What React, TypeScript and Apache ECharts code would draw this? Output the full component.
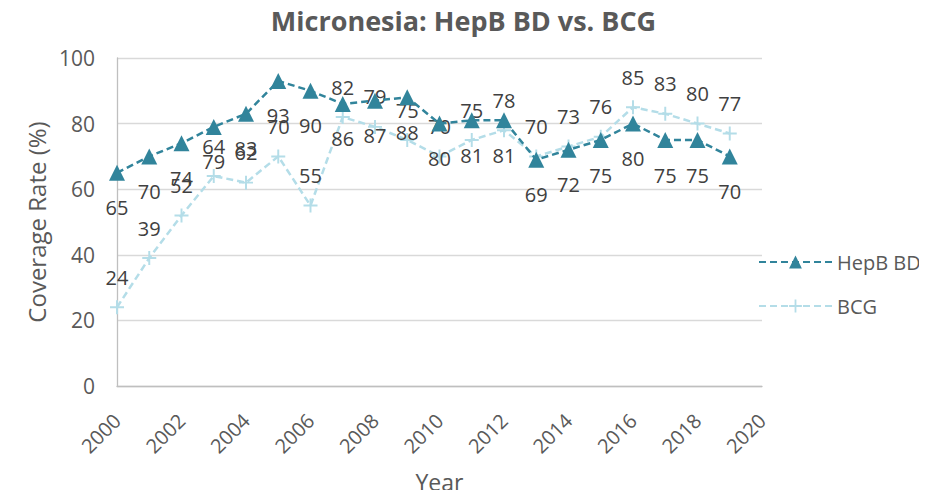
import React, { useEffect, useRef } from "react";
import * as echarts from "echarts";

const years = [2000, 2001, 2002, 2003, 2004, 2005, 2006, 2007, 2008, 2009, 2010, 2011, 2012, 2013, 2014, 2015, 2016, 2017, 2018, 2019];
const hepbBD = [65, 70, 74, 79, 83, 93, 90, 86, 87, 88, 80, 81, 81, 69, 72, 75, 80, 75, 75, 70];
const bcg = [24, 39, 52, 64, 62, 70, 55, 82, 79, 75, 70, 75, 78, 70, 73, 76, 85, 83, 80, 77];

const titleText = "Micronesia: HepB BD vs. BCG";
const xName = "Year";
const yName = "Coverage Rate (%)";

const HEPB_COLOR = "#31849B";
const BCG_COLOR = "#B4DDE8";
const PLUS = "path://M0,8.6 L20,8.6 L20,11.4 L0,11.4 Z M8.6,0 L11.4,0 L11.4,20 L8.6,20 Z";
const FONT = "Open Sans";

export default function App() {
  const ref = useRef<HTMLDivElement>(null);
  useEffect(() => {
    if (!ref.current) return;
    const chart = echarts.init(ref.current, undefined, { renderer: "svg" });
    chart.setOption({
      animation: false,
      backgroundColor: "#ffffff",
      title: {
        text: titleText,
        left: "center",
        top: 2,
        textStyle: { fontFamily: FONT, fontSize: 27, fontWeight: "bold", color: "#595959" },
      },
      grid: { left: 117, right: 165, top: 58, bottom: 112 },
      legend: {
        orient: "vertical",
        left: 753,
        top: 247,
        padding: 5,
        itemWidth: 73,
        itemHeight: 16,
        itemGap: 24,
        textStyle: { fontFamily: FONT, fontSize: 20, color: "#595959" },
        data: ["HepB BD", "BCG"],
      },
      xAxis: {
        type: "value",
        min: 2000,
        max: 2020,
        interval: 2,
        name: xName,
        nameLocation: "middle",
        nameGap: 84,
        nameTextStyle: { fontFamily: FONT, fontSize: 23, color: "#595959" },
        axisLine: { show: true, lineStyle: { color: "#BFBFBF", width: 1.3 } },
        axisTick: { show: false },
        splitLine: { show: false },
        axisLabel: {
          rotate: 45,
          margin: 31,
          fontFamily: FONT,
          fontSize: 20,
          color: "#595959",
          formatter: (v: number) => String(v),
        },
      },
      yAxis: {
        type: "value",
        min: 0,
        max: 100,
        interval: 20,
        name: yName,
        nameLocation: "middle",
        nameGap: 67,
        nameTextStyle: { fontFamily: FONT, fontSize: 24, color: "#595959" },
        axisLine: { show: true, lineStyle: { color: "#BFBFBF", width: 1.3 } },
        axisTick: { show: false },
        splitLine: { show: true, lineStyle: { color: "#D9D9D9", width: 1.3 } },
        axisLabel: { margin: 22, fontFamily: FONT, fontSize: 21, color: "#595959" },
      },
      series: [
        {
          name: "HepB BD",
          type: "line",
          data: years.map((y, i) => [y, hepbBD[i]]),
          symbol: "triangle",
          symbolSize: 16,
          itemStyle: { color: HEPB_COLOR },
          lineStyle: { color: HEPB_COLOR, width: 2.5, type: [7, 4] },
          label: {
            show: true,
            position: "inside",
            offset: [0, 35],
            fontFamily: FONT,
            fontSize: 20,
            color: "#404040",
          },
          z: 3,
        },
        {
          name: "BCG",
          type: "line",
          data: years.map((y, i) => [y, bcg[i]]),
          symbol: PLUS,
          symbolSize: 14,
          itemStyle: { color: BCG_COLOR },
          lineStyle: { color: BCG_COLOR, width: 2.5, type: [7, 4] },
          label: {
            show: true,
            position: "inside",
            offset: [0, -30],
            fontFamily: FONT,
            fontSize: 20,
            color: "#404040",
          },
          z: 2,
        },
      ],
    });
    return () => chart.dispose();
  }, []);
  return <div ref={ref} style={{ width: 927, height: 498, margin: -8 }} />;
}
